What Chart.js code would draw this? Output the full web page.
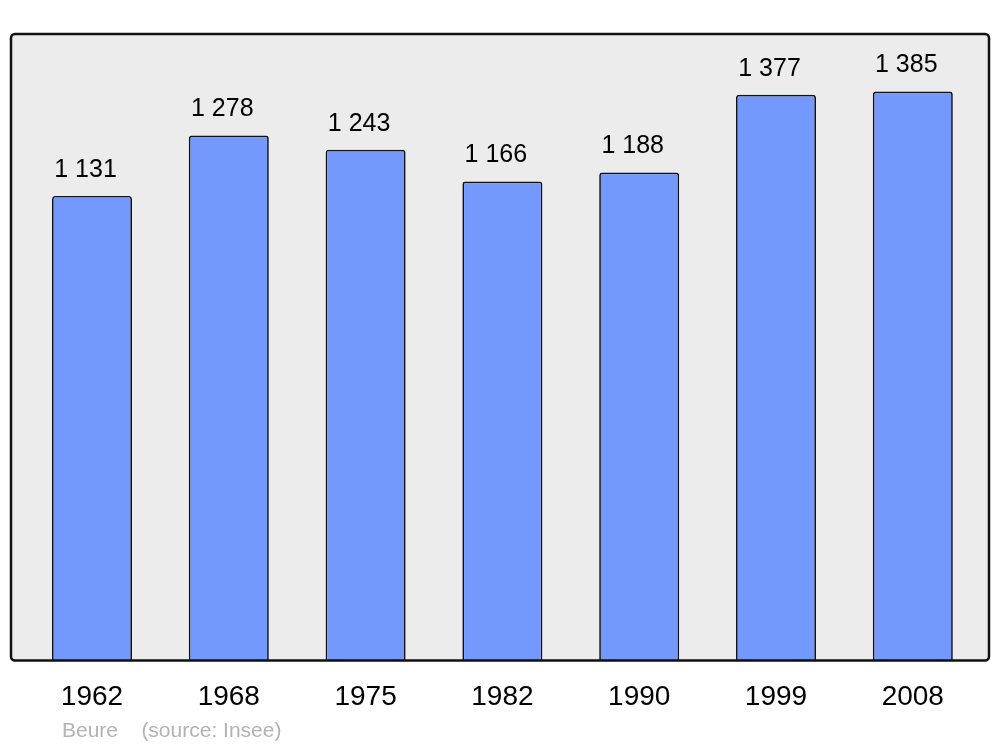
<!DOCTYPE html>
<html>
<head>
<meta charset="utf-8">
<script src="https://cdn.jsdelivr.net/npm/chart.js@4/dist/chart.umd.min.js"></script>
<style>
  html, body { margin: 0; padding: 0; background: #fff; }
  #wrap { position: relative; width: 1000px; height: 747px; }
  #source { position: absolute; left: 62px; top: 718px; font: 21px "Liberation Sans", Arial, sans-serif; color: #b3b3b3; white-space: pre; }
</style>
</head>
<body>
<div id="wrap">
  <canvas id="c" width="1000" height="747"></canvas>
  <div id="source">Beure    (source: Insee)</div>
</div>
<script>
/* Population par année de recensement */
const annees = ["1962", "1968", "1975", "1982", "1990", "1999", "2008"];
const population = [1131, 1278, 1243, 1166, 1188, 1377, 1385];

function fmtPop(n) {
  return String(n).replace(/\B(?=(\d{3})+(?!\d))/g, " ");
}

const fondPanneau = {
  id: "fondPanneau",
  beforeDatasetsDraw(chart) {
    const ctx = chart.ctx;
    const a = chart.chartArea;
    ctx.save();
    ctx.fillStyle = "#ececec";
    ctx.beginPath();
    ctx.roundRect(a.left - 12.6, a.top, a.right - a.left + 20.4, a.bottom - a.top, 4);
    ctx.fill();
    ctx.restore();
  },
  afterDatasetsDraw(chart) {
    const ctx = chart.ctx;
    const a = chart.chartArea;
    ctx.save();
    ctx.strokeStyle = "#111";
    ctx.lineWidth = 2.5;
    ctx.beginPath();
    ctx.roundRect(a.left - 12.6, a.top, a.right - a.left + 20.4, a.bottom - a.top, 4);
    ctx.stroke();
    // étiquettes de valeur
    ctx.fillStyle = "#000";
    ctx.font = '25px "Liberation Sans", Arial, sans-serif';
    ctx.textAlign = "center";
    ctx.textBaseline = "middle";
    chart.getDatasetMeta(0).data.forEach((bar, i) => {
      ctx.fillText(fmtPop(population[i]), bar.x - 6.5, bar.y - 26);
    });
    ctx.restore();
  },
};

new Chart(document.getElementById("c"), {
  type: "bar",
  data: {
    labels: annees,
    datasets: [{
      data: population,
      backgroundColor: "#7399ff",
      borderColor: "#111",
      borderWidth: 1.7,
      borderRadius: 3,
      borderSkipped: "bottom",
      barPercentage: 0.585,
      categoryPercentage: 1,
    }],
  },
  options: {
    responsive: false,
    animation: false,
    devicePixelRatio: 1,
    layout: { padding: { left: 23.6, right: 18.8, top: 34, bottom: 14 } },
    plugins: { legend: { display: false }, tooltip: { enabled: false } },
    scales: {
      x: {
        grid: { display: false, drawTicks: false },
        border: { display: false },
        ticks: { color: "#000", padding: 19.4, font: { family: '"Liberation Sans", Arial, sans-serif', size: 28 } },
      },
      y: { display: false, min: 0, max: 1525 },
    },
  },
  plugins: [fondPanneau],
});
</script>
</body>
</html>
